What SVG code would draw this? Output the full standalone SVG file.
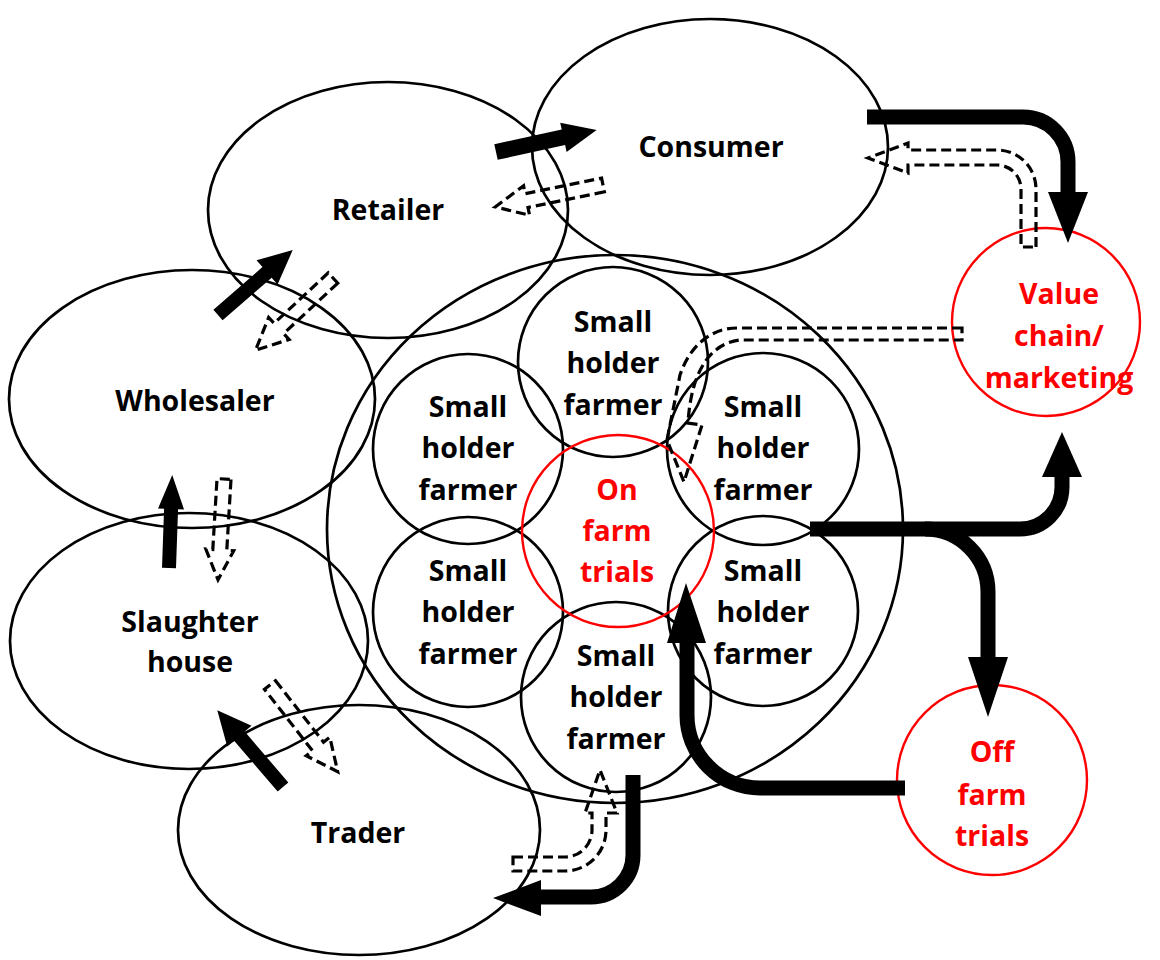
<svg xmlns="http://www.w3.org/2000/svg" width="1160" height="960" viewBox="0 0 1160 960">
<style>
.el{fill:none;stroke:#000;stroke-width:2.7}
.rc{fill:none;stroke:#ff0000;stroke-width:2.4}
.t{font-family:"Open Sans","Liberation Sans",sans-serif;font-weight:700;font-size:28.5px;fill:#000;text-anchor:middle}
.r{fill:#ff0000}
.solid{fill:#000;stroke:none}
.thick{fill:none;stroke:#000;stroke-width:15}
.dash{fill:none;stroke:#000;stroke-width:3.2;stroke-dasharray:10,5}
</style>
<rect width="1160" height="960" fill="#fff"/>
<g id="consumer"><ellipse class="el" cx="710" cy="147" rx="178" ry="128"/><text class="t" x="711" y="157">Consumer</text></g>
<g id="retailer"><ellipse class="el" cx="388" cy="210" rx="180" ry="128"/><text class="t" x="388" y="220">Retailer</text></g>
<g id="wholesaler"><ellipse class="el" cx="192" cy="399" rx="183" ry="129"/><text class="t" x="195" y="411">Wholesaler</text></g>
<g id="slaughter"><ellipse class="el" cx="189" cy="641" rx="179" ry="128"/><text class="t" x="190" y="632">Slaughter</text><text class="t" x="190" y="672">house</text></g>
<g id="trader"><ellipse class="el" cx="359" cy="830" rx="181" ry="125"/><text class="t" x="358" y="843">Trader</text></g>
<g id="farm-cluster"><ellipse class="el" cx="615" cy="529" rx="288" ry="274"/></g>
<g id="shf-top"><circle class="el" cx="613" cy="362" r="95"/><text class="t" x="613" y="332">Small</text><text class="t" x="613" y="373">holder</text><text class="t" x="613" y="415">farmer</text></g>
<g id="shf-ul"><circle class="el" cx="468" cy="449" r="95"/><text class="t" x="468" y="417">Small</text><text class="t" x="468" y="458">holder</text><text class="t" x="468" y="500">farmer</text></g>
<g id="shf-ur"><circle class="el" cx="763" cy="449" r="96"/><text class="t" x="763" y="417">Small</text><text class="t" x="763" y="458">holder</text><text class="t" x="763" y="500">farmer</text></g>
<g id="shf-ll"><circle class="el" cx="468" cy="612" r="95"/><text class="t" x="468" y="581">Small</text><text class="t" x="468" y="622">holder</text><text class="t" x="468" y="664">farmer</text></g>
<g id="shf-lr"><circle class="el" cx="763" cy="611" r="95"/><text class="t" x="763" y="581">Small</text><text class="t" x="763" y="622">holder</text><text class="t" x="763" y="664">farmer</text></g>
<g id="shf-bottom"><circle class="el" cx="616" cy="697" r="95"/><text class="t" x="616" y="666">Small</text><text class="t" x="616" y="707">holder</text><text class="t" x="616" y="749">farmer</text></g>
<g id="onfarm"><circle class="rc" cx="618" cy="531" r="96"/><text class="t r" x="617" y="500">On</text><text class="t r" x="617" y="541">farm</text><text class="t r" x="617" y="582">trials</text></g>
<g id="valuechain"><circle class="rc" cx="1046" cy="322" r="94"/><text class="t r" x="1059" y="304">Value</text><text class="t r" x="1059" y="346">chain/</text><text class="t r" x="1059" y="388">marketing</text></g>
<g id="offfarm"><circle class="rc" cx="992" cy="780" r="95"/><text class="t r" x="992" y="762">Off</text><text class="t r" x="992" y="805">farm</text><text class="t r" x="992" y="846">trials</text></g>
<g id="connectors">
<path class="solid" transform="translate(496,152) rotate(-12.3)" d="M0,-8 H69 V-15 L103,0 L69,15 V8 H0 Z"/>
<path class="dash" transform="translate(603,185) rotate(168.5)" d="M0,-7 H78 V-15 L110,0 L78,15 V7 H0 Z"/>
<path class="solid" transform="translate(218,315) rotate(-41)" d="M0,-7 H65 V-16 L99,0 L65,16 V7 H0 Z"/>
<path class="dash" transform="translate(333,278) rotate(137)" d="M0,-7 H74 V-15 L106,0 L74,15 V7 H0 Z"/>
<path class="solid" transform="translate(169,568) rotate(-88)" d="M0,-7 H59 V-13 L93,0 L59,13 V7 H0 Z"/>
<path class="dash" transform="translate(224,479) rotate(93.4)" d="M0,-7 H71 V-14 L101,0 L71,14 V7 H0 Z"/>
<path class="solid" transform="translate(283,787) rotate(-130.6)" d="M0,-7 H67 V-16 L101,0 L67,16 V7 H0 Z"/>
<path class="dash" transform="translate(270,685) rotate(52)" d="M0,-7 H78 V-15 L110,0 L78,15 V7 H0 Z"/>
<path class="thick" d="M633,775 V855 A42,42 0 0 1 591,897 H538"/>
<path class="solid" d="M541,880 L493,898 L541,916 Z"/>
<path class="dash" d="M513,857 H565 A27,27 0 0 0 592,830 V813 H585 L600,770 L617,813 H606 V830 A41,41 0 0 1 565,871 H513 Z"/>
<path class="thick" d="M867,117 H1023 A45,45 0 0 1 1068,162 V195"/>
<path class="solid" d="M1048,192 L1068,243 L1088,192 Z"/>
<path class="dash" d="M1036,247 V189 A39,39 0 0 0 997,150 H908 V143 L868,158 L908,173 V165 H997 A24,24 0 0 1 1021,189 V247 Z"/>
<path class="dash" d="M962,328 H737 C712,328 690,345 680,375 L667,440 L684,482 L702,425 L688,423 C690,390 700,345 740,340 H962 Z"/>
<path class="thick" d="M810,529 H1020 A42,42 0 0 0 1062,487 V474"/>
<path class="solid" d="M1042,477 L1062,432 L1082,477 Z"/>
<path class="thick" d="M925,529 A63,63 0 0 1 988,592 V660"/>
<path class="solid" d="M968,657 L988,717 L1008,657 Z"/>
<path class="thick" d="M905,788 H760 A73,73 0 0 1 687,715 V640"/>
<path class="solid" d="M667,643 L686,583 L706,643 Z"/>
</g>
</svg>
